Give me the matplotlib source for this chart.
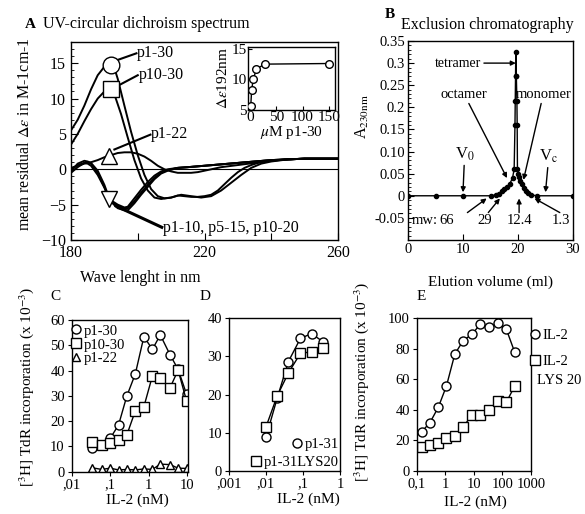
import numpy as np
import matplotlib
matplotlib.use("Agg")
import matplotlib.pyplot as plt
from matplotlib.lines import Line2D

plt.rcParams['font.family'] = ['Liberation Serif', 'DejaVu Serif']
plt.rcParams['mathtext.fontset'] = 'stix'
plt.rcParams['axes.linewidth'] = 1.0

W, H = 585, 514


def box(l, t, r, b):
    # pixel box of the reference -> figure fraction
    return [l / W, 1 - b / H, (r - l) / W, (b - t) / H]


def px(x, y):
    return (x / W, 1 - y / H)


# ---------------- data ----------------
# A: UV circular dichroism (wavelength nm, mean residual delta-eps)
wl_p130 = [180, 182, 184, 186, 188, 190, 192, 193, 194, 196, 198, 200, 202, 204, 206, 208,
           210, 212, 214, 216, 218, 220, 222, 224, 226, 228, 230, 232, 234, 236, 238, 240,
           244, 250, 255, 260]
cd_p130 = [5.5, 7.0, 9.0, 11.3, 13.3, 14.5, 14.8, 14.3, 12.8, 9.0, 5.3, 2.0, -0.8, -2.8, -3.8, -4.1,
           -4.0, -3.7, -3.8, -3.9, -3.9, -3.8, -3.6, -3.0, -2.1, -1.2, -0.4, 0.2, 0.6, 0.9, 1.1, 1.2,
           1.4, 1.5, 1.5, 1.5]
wl_p1030 = [180, 182, 184, 186, 188, 190, 192, 193, 195, 197, 199, 201, 203, 205, 207, 210,
            213, 216, 219, 222, 225, 228, 231, 234, 237, 240, 245, 250, 260]
cd_p1030 = [3.5, 5.0, 6.8, 8.5, 10.0, 11.0, 11.3, 10.6, 7.8, 4.5, 1.3, -1.3, -3.0, -4.0, -4.2, -4.0,
            -3.6, -3.8, -4.0, -3.8, -3.0, -1.9, -0.8, 0.2, 0.8, 1.1, 1.4, 1.5, 1.5]
wl_p122 = [180, 182, 184, 186, 188, 190, 192, 194, 196, 198, 200, 202, 204, 206, 208, 210,
           212, 214, 216, 218, 220, 222, 225, 230, 235, 240, 245, 250, 260]
cd_p122 = [0.2, 0.5, 0.8, 1.0, 1.3, 1.7, 2.0, 2.3, 2.4, 2.4, 2.2, 1.8, 1.2, 0.5, 0.0, -0.3,
           -0.5, -0.5, -0.5, -0.4, -0.2, 0.0, 0.3, 0.6, 0.9, 1.2, 1.4, 1.5, 1.5]
wl_short = [180, 182, 184, 185, 186, 188, 190, 191, 192, 194, 196, 197, 199, 201, 203, 205,
            207, 209, 212, 215, 220, 225, 230, 235, 240, 245, 250, 260]
cd_p110 = [-0.5, 0.3, 0.9, 1.0, 0.8, -0.5, -2.5, -3.8, -4.5, -5.2, -5.6, -5.5, -4.5, -3.3, -2.2, -1.2,
           -0.5, -0.1, 0.2, 0.3, 0.5, 0.7, 0.9, 1.1, 1.3, 1.4, 1.5, 1.5]
cd_p515 = [0.0, 0.6, 0.9, 0.8, 0.5, -0.8, -2.6, -3.6, -4.4, -5.0, -5.4, -5.3, -4.1, -2.9, -1.8, -0.9,
           -0.3, 0.0, 0.2, 0.3, 0.5, 0.7, 0.9, 1.1, 1.3, 1.4, 1.5, 1.5]
cd_p1020 = [-0.3, 0.8, 1.2, 1.1, 0.9, -0.2, -2.2, -3.5, -4.6, -5.5, -5.8, -5.8, -4.8, -3.6, -2.5, -1.4,
            -0.6, -0.2, 0.2, 0.3, 0.5, 0.7, 0.9, 1.1, 1.3, 1.4, 1.5, 1.5]

# A inset: delta-eps at 192 nm vs concentration of p1-30 (uM)
ins_conc = [1.2, 3, 6, 12, 28, 150]
ins_de = [5.6, 8.3, 10.0, 11.7, 12.5, 12.6]

# B: exclusion chromatography
el_vol = [0, 5, 10, 15, 16, 16.5, 17, 17.5, 18, 18.5, 19.0, 19.3, 19.45, 19.5, 19.55, 19.6,
          19.7, 19.8, 19.85, 19.9, 19.95, 20.1, 20.4, 20.7, 21.0, 21.4, 21.8, 22.3, 23.5, 30]
a230 = [0, 0, 0, 0, 0.002, 0.005, 0.010, 0.016, 0.020, 0.027, 0.04, 0.06, 0.16, 0.215, 0.27, 0.325,
        0.27, 0.215, 0.16, 0.06, 0.05, 0.042, 0.034, 0.026, 0.018, 0.011, 0.006, 0.002, 0, 0]

# C: proliferation vs IL-2 (nM)
c_il2 = [0.033, 0.06, 0.1, 0.165, 0.27, 0.45, 0.75, 1.25, 2.0, 3.6, 5.8, 9.6]
c_p130 = [9.2, 10.6, 13.2, 18.5, 29.9, 38.7, 53.4, 48.4, 54.1, 46.2, 40.5, 30.7]
c_p1030 = [11.9, 10.6, 11.5, 12.5, 14.5, 24.1, 25.7, 37.9, 36.9, 33.2, 40.2, 28.1]
c_p122 = [1.6, 0.9, 1.4, 0.7, 0.9, 0.7, 1.1, 0.9, 3.0, 2.8, 1.4, 1.3]

# D
d_il2 = [0.01, 0.02, 0.04, 0.085, 0.17, 0.34]
d_p131 = [8.8, 19.0, 28.6, 34.7, 36.0, 33.9]
d_lys20 = [11.5, 19.6, 25.6, 30.8, 31.2, 32.1]

# E
e_il2 = [0.15, 0.29, 0.57, 1.1, 2.15, 4.2, 8.8, 17, 34, 69, 137, 270]
e_wt = [25.6, 31.5, 41.6, 55.6, 76.4, 85.3, 89.7, 96.3, 94.1, 96.7, 92.8, 77.7]
e_lys20 = [15.8, 16.9, 18.0, 21.7, 22.8, 28.9, 36.5, 36.5, 39.8, 45.9, 44.9, 55.6]

ylab_inc = r'[$^{3}$H] TdR incorporation (x 10$^{-3}$)'

fig = plt.figure(figsize=(W / 100, H / 100), dpi=100)

# ---------------- panel A ----------------
axA = fig.add_axes(box(71, 42, 338, 240))
axA.axhline(0, color='k', lw=0.8)
for wl, cd in [(wl_p130, cd_p130), (wl_p1030, cd_p1030), (wl_p122, cd_p122),
               (wl_short, cd_p110), (wl_short, cd_p515), (wl_short, cd_p1020)]:
    axA.plot(wl, cd, color='k', lw=1.4)
mk = dict(mfc='white', mec='k', mew=1.0, ls='none', zorder=5)
axA.plot(192, np.interp(192, wl_p130, cd_p130), 'o', ms=12, **mk)
axA.plot(192, np.interp(192, wl_p1030, cd_p1030), 's', ms=11, **mk)
axA.plot(191.5, np.interp(191.5, wl_p122, cd_p122), '^', ms=11, **mk)
axA.plot(191.5, np.interp(191.5, wl_short, cd_p110), 'v', ms=11, **mk)
axA.set_xlim(180, 260)
axA.set_ylim(-10, 18)
axA.set_xticks([180, 200, 220, 240, 260], ['180', '', '220', '', '260'])
axA.set_yticks([-10, -5, 0, 5, 10, 15])
axA.set_yticks(np.arange(-10, 18, 1), minor=True)
axA.tick_params(direction='in', labelsize=11.5, length=5, top=False, right=False)
axA.tick_params(which='minor', direction='in', length=2.5)

lead = dict(color='k', lw=1.5)
axA.plot([193.6, 199.6], [15.4, 16.4], **lead)
axA.text(199.8, 16.5, 'p1-30', fontsize=11.5, va='center')
axA.plot([194.0, 200.0], [11.8, 13.3], **lead)
axA.text(200.2, 13.4, 'p10-30', fontsize=11.5, va='center')
axA.plot([193.0, 203.8], [2.8, 4.9], **lead)
axA.text(204.0, 5.0, 'p1-22', fontsize=11.5, va='center')
axA.plot([193.5, 207.2], [-5.2, -8.2], color='k', lw=2.2)
axA.text(207.5, -8.3, 'p1-10, p5-15, p10-20', fontsize=11.5, va='center')

fig.text(*px(25, 24), 'A', fontsize=11, fontweight='bold', va='center')
fig.text(*px(43, 24), 'UV-circular dichroism spectrum', fontsize=11.5, va='center')
fig.text(*px(25, 134), r'mean residual $\Delta\varepsilon$ in M-1cm-1', fontsize=11.5,
         rotation=90, ha='center', va='center')
fig.text(*px(140, 278), 'Wave lenght in nm', fontsize=11.5, ha='center', va='center')

# inset
axI = fig.add_axes(box(248, 47, 335, 110))
axI.plot(ins_conc, ins_de, color='k', lw=1.0)
axI.plot(ins_conc, ins_de, 'o', ms=5.5, **mk)
axI.set_xlim(-4, 162)
axI.set_ylim(5, 15.3)
axI.set_xticks([0, 50, 100, 150])
axI.set_yticks([5, 10, 15])
axI.tick_params(direction='in', labelsize=11, length=3, pad=1)
axI.set_ylabel(r'$\Delta\varepsilon$192nm', fontsize=11, labelpad=1)
axI.set_xlabel(r'$\mu$M p1-30', fontsize=11, labelpad=0)

# ---------------- panel B ----------------
axB = fig.add_axes(box(408, 41, 573, 240))
axB.plot(el_vol, a230, color='k', lw=1.0, marker='o', ms=3, mfc='k', mec='k')
axB.set_xlim(0, 30)
axB.set_ylim(-0.1, 0.35)
axB.set_xticks([0, 10, 20, 30])
axB.set_yticks([-0.05, 0, 0.05, 0.10, 0.15, 0.2, 0.25, 0.3, 0.35],
               ['-0.05', '0', '0.05', '0.10', '0.15', '0.2', '0.25', '0.3', '0.35'])
axB.set_yticks(np.arange(-0.1, 0.351, 0.01), minor=True)
axB.tick_params(direction='in', labelsize=10.5, length=4, pad=2)
axB.tick_params(which='minor', direction='in', length=2)

ap = dict(arrowstyle='-|>', color='k', lw=1.0, mutation_scale=7, shrinkA=0, shrinkB=0)
axB.annotate('tetramer', xy=(19.6, 0.30), xytext=(13.3, 0.30), fontsize=10,
             ha='right', va='center', arrowprops=ap)
axB.annotate('octamer', xy=(18.0, 0.04), xytext=(10.2, 0.215), fontsize=10.5,
             ha='center', va='bottom', arrowprops=ap)
axB.annotate('monomer', xy=(21.0, 0.036), xytext=(24.6, 0.215), fontsize=10.5,
             ha='center', va='bottom', arrowprops=ap)
axB.annotate(r'V$_0$', xy=(10, 0.008), xytext=(10.3, 0.075), fontsize=12,
             ha='center', va='bottom', arrowprops=ap)
axB.annotate(r'V$_\mathrm{c}$', xy=(25, 0.008), xytext=(25.6, 0.07), fontsize=12,
             ha='center', va='bottom', arrowprops=ap)
axB.text(0.6, -0.055, 'mw:', fontsize=10.5, va='center')
for lab, tx, tip in [('66', 7.0, 14.3), ('29', 14.0, 16.7), ('12.4', 20.2, 20.2), ('1.3', 27.9, 22.8)]:
    axB.text(tx, -0.055, lab, fontsize=10.5, ha='center', va='center')
for (x0, x1) in [(10.8, 14.3), (14.6, 16.7), (20.2, 20.2), (27.6, 23.0)]:
    axB.annotate('', xy=(x1, -0.006), xytext=(x0, -0.038), arrowprops=ap)

fig.text(*px(385, 15), 'B', fontsize=11, fontweight='bold', va='center')
fig.text(*px(487, 25), 'Exclusion chromatography', fontsize=11.5, ha='center', va='center')
fig.text(*px(362, 117), r'A$_{230\mathrm{nm}}$', fontsize=11.5, rotation=90, ha='center', va='center')
fig.text(*px(491, 282), 'Elution volume (ml)', fontsize=11, ha='center', va='center')

# ---------------- panel C ----------------
ms_c = dict(mfc='white', mec='k', mew=1.0, color='k', lw=1.0)
axC = fig.add_axes(box(71.7, 320, 188, 471.7))
axC.plot(c_il2, c_p130, marker='o', ms=6.5, label='p1-30', **ms_c)
axC.plot(c_il2, c_p1030, marker='s', ms=7, label='p10-30', **ms_c)
axC.plot(c_il2, c_p122, marker='^', ms=6, label='p1-22', **ms_c)
axC.set_xscale('log')
axC.set_xlim(0.01, 10.5)
axC.set_ylim(0, 60)
axC.set_xticks([0.01, 0.1, 1, 10], [',01', ',1', '1', '10'])
axC.minorticks_off()
axC.set_yticks([0, 10, 20, 30, 40, 50, 60])
axC.tick_params(direction='out', labelsize=10.5, length=3, pad=2)
axC.legend(loc='upper left', bbox_to_anchor=(0.0, 1.0), frameon=False, fontsize=10.5,
           handlelength=0, handletextpad=0.5, borderpad=0.2, borderaxespad=0.1,
           labelspacing=0.05, markerfirst=True)

fig.text(*px(50, 297), 'C', fontsize=11, va='center')
fig.text(*px(27, 387), ylab_inc, fontsize=11, rotation=90, ha='center', va='center')
fig.text(*px(137, 500), 'IL-2 (nM)', fontsize=11, ha='center', va='center')

# ---------------- panel D ----------------
axD = fig.add_axes(box(229, 318.3, 340, 470.7))
hD1, = axD.plot(d_il2, d_p131, marker='o', ms=6.5, **ms_c)
hD2, = axD.plot(d_il2, d_lys20, marker='s', ms=7, **ms_c)
axD.set_xscale('log')
axD.set_xlim(0.001, 1)
axD.set_ylim(0, 40)
axD.set_xticks([0.001, 0.01, 0.1, 1], [',001', ',01', ',1', '1'])
axD.minorticks_off()
axD.set_yticks([0, 10, 20, 30, 40])
axD.tick_params(direction='out', labelsize=10.5, length=3, pad=2)
legD1 = axD.legend([hD1], ['p1-31'], loc='lower right', bbox_to_anchor=(1.0, 0.12),
                   frameon=False, fontsize=10.5, handlelength=0, handletextpad=0.5,
                   borderpad=0, borderaxespad=0.1)
axD.add_artist(legD1)
axD.legend([hD2], ['p1-31LYS20'], loc='lower right', bbox_to_anchor=(1.0, 0.0),
           frameon=False, fontsize=10.5, handlelength=0, handletextpad=0.5,
           borderpad=0, borderaxespad=0.1)

fig.text(*px(200, 297), 'D', fontsize=11, va='center')
fig.text(*px(308, 499), 'IL-2 (nM)', fontsize=11, ha='center', va='center')

# ---------------- panel E ----------------
axE = fig.add_axes(box(416.7, 318.3, 531, 470.7))
hE1, = axE.plot(e_il2, e_wt, marker='o', ms=6.5, **ms_c)
hE2, = axE.plot(e_il2, e_lys20, marker='s', ms=7, **ms_c)
axE.set_xscale('log')
axE.set_xlim(0.1, 1000)
axE.set_ylim(0, 100)
axE.set_xticks([0.1, 1, 10, 100, 1000], ['0,1', '1', '10', '100', '1000'])
axE.minorticks_off()
axE.set_yticks([0, 20, 40, 60, 80, 100])
axE.tick_params(direction='out', labelsize=10.5, length=3, pad=2)
axE.legend([hE1, hE2], ['IL-2', 'IL-2'], loc='upper left', bbox_to_anchor=(1.0, 0.96),
           frameon=False, fontsize=10.5, handlelength=0, handletextpad=0.5,
           borderpad=0, borderaxespad=0.3, labelspacing=0.9)

fig.text(*px(537, 380), 'LYS 20', fontsize=10.5, va='center')
fig.text(*px(417, 297), 'E', fontsize=11, va='center')
fig.text(*px(362, 382), ylab_inc, fontsize=11, rotation=90, ha='center', va='center')
fig.text(*px(475, 502), 'IL-2 (nM)', fontsize=11, ha='center', va='center')

fig.savefig('out.png', dpi=100)
